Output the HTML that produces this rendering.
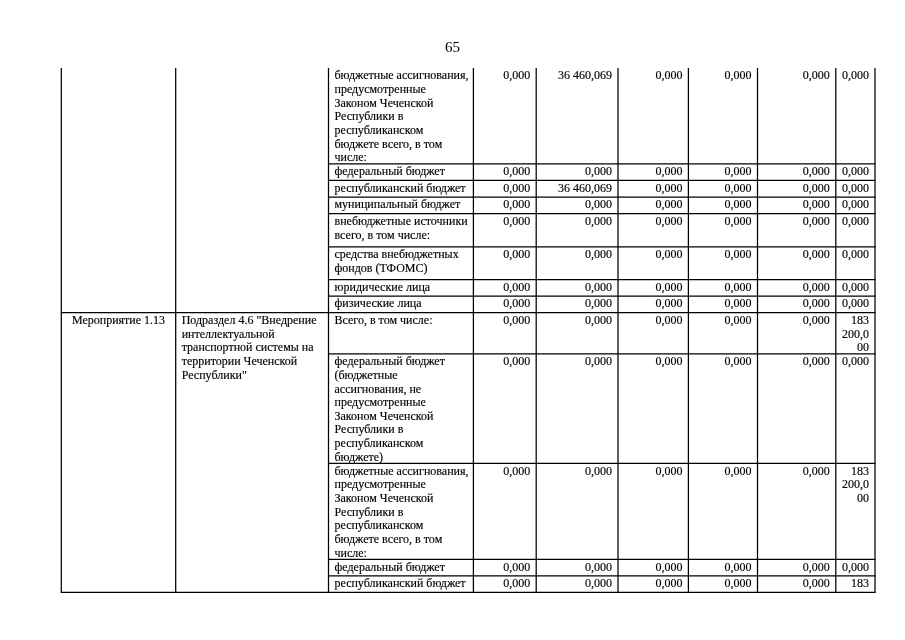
<!DOCTYPE html>
<html><head><meta charset="utf-8">
<style>
html,body{margin:0;padding:0;background:#fff;}
body{width:905px;height:640px;position:relative;overflow:hidden;font-family:"Liberation Serif",serif;color:#000;}
.l{position:absolute;background:#1a1a1a;}
.t{position:absolute;font-size:12.0px;line-height:13.65px;white-space:nowrap;-webkit-text-stroke:0.15px #000;}
.r{text-align:right;}
.c{text-align:center;}
.pn{position:absolute;font-size:15px;line-height:17px;left:0;width:905px;text-align:center;}
body{filter:grayscale(1);}
</style></head><body>

<div class="pn" style="top:39px;">65</div>
<svg width="905" height="640" style="position:absolute;left:0;top:0"><g stroke="#000" stroke-width="1.25" shape-rendering="geometricPrecision"><line x1="61.30" y1="68.00" x2="61.30" y2="592.80"/><line x1="175.70" y1="68.00" x2="175.70" y2="592.80"/><line x1="328.50" y1="68.00" x2="328.50" y2="592.80"/><line x1="473.40" y1="68.00" x2="473.40" y2="592.80"/><line x1="536.20" y1="68.00" x2="536.20" y2="592.80"/><line x1="618.00" y1="68.00" x2="618.00" y2="592.80"/><line x1="688.40" y1="68.00" x2="688.40" y2="592.80"/><line x1="757.50" y1="68.00" x2="757.50" y2="592.80"/><line x1="835.80" y1="68.00" x2="835.80" y2="592.80"/><line x1="875.00" y1="68.00" x2="875.00" y2="592.80"/><line x1="328.00" y1="163.90" x2="875.50" y2="163.90"/><line x1="328.00" y1="180.40" x2="875.50" y2="180.40"/><line x1="328.00" y1="197.00" x2="875.50" y2="197.00"/><line x1="328.00" y1="213.50" x2="875.50" y2="213.50"/><line x1="328.00" y1="246.80" x2="875.50" y2="246.80"/><line x1="328.00" y1="279.70" x2="875.50" y2="279.70"/><line x1="328.00" y1="296.00" x2="875.50" y2="296.00"/><line x1="60.80" y1="312.50" x2="875.50" y2="312.50"/><line x1="328.00" y1="353.80" x2="875.50" y2="353.80"/><line x1="328.00" y1="463.30" x2="875.50" y2="463.30"/><line x1="328.00" y1="559.30" x2="875.50" y2="559.30"/><line x1="328.00" y1="575.80" x2="875.50" y2="575.80"/><line x1="60.80" y1="592.30" x2="875.50" y2="592.30"/></g></svg>
<div class="t" style="left:334.5px;top:69.4px">бюджетные ассигнования,<br>предусмотренные<br>Законом Чеченской<br>Республики в<br>республиканском<br>бюджете всего, в том<br>числе:</div>
<div class="t r" style="right:374.8px;top:69.4px">0,000</div>
<div class="t r" style="right:293.0px;top:69.4px">36 460,069</div>
<div class="t r" style="right:222.6px;top:69.4px">0,000</div>
<div class="t r" style="right:153.5px;top:69.4px">0,000</div>
<div class="t r" style="right:75.2px;top:69.4px">0,000</div>
<div class="t r" style="right:36.0px;top:69.4px">0,000</div>
<div class="t" style="left:334.5px;top:165.3px">федеральный бюджет</div>
<div class="t r" style="right:374.8px;top:165.3px">0,000</div>
<div class="t r" style="right:293.0px;top:165.3px">0,000</div>
<div class="t r" style="right:222.6px;top:165.3px">0,000</div>
<div class="t r" style="right:153.5px;top:165.3px">0,000</div>
<div class="t r" style="right:75.2px;top:165.3px">0,000</div>
<div class="t r" style="right:36.0px;top:165.3px">0,000</div>
<div class="t" style="left:334.5px;top:181.8px">республиканский бюджет</div>
<div class="t r" style="right:374.8px;top:181.8px">0,000</div>
<div class="t r" style="right:293.0px;top:181.8px">36 460,069</div>
<div class="t r" style="right:222.6px;top:181.8px">0,000</div>
<div class="t r" style="right:153.5px;top:181.8px">0,000</div>
<div class="t r" style="right:75.2px;top:181.8px">0,000</div>
<div class="t r" style="right:36.0px;top:181.8px">0,000</div>
<div class="t" style="left:334.5px;top:198.4px">муниципальный бюджет</div>
<div class="t r" style="right:374.8px;top:198.4px">0,000</div>
<div class="t r" style="right:293.0px;top:198.4px">0,000</div>
<div class="t r" style="right:222.6px;top:198.4px">0,000</div>
<div class="t r" style="right:153.5px;top:198.4px">0,000</div>
<div class="t r" style="right:75.2px;top:198.4px">0,000</div>
<div class="t r" style="right:36.0px;top:198.4px">0,000</div>
<div class="t" style="left:334.5px;top:214.9px">внебюджетные источники<br>всего, в том числе:</div>
<div class="t r" style="right:374.8px;top:214.9px">0,000</div>
<div class="t r" style="right:293.0px;top:214.9px">0,000</div>
<div class="t r" style="right:222.6px;top:214.9px">0,000</div>
<div class="t r" style="right:153.5px;top:214.9px">0,000</div>
<div class="t r" style="right:75.2px;top:214.9px">0,000</div>
<div class="t r" style="right:36.0px;top:214.9px">0,000</div>
<div class="t" style="left:334.5px;top:248.2px">средства внебюджетных<br>фондов (ТФОМС)</div>
<div class="t r" style="right:374.8px;top:248.2px">0,000</div>
<div class="t r" style="right:293.0px;top:248.2px">0,000</div>
<div class="t r" style="right:222.6px;top:248.2px">0,000</div>
<div class="t r" style="right:153.5px;top:248.2px">0,000</div>
<div class="t r" style="right:75.2px;top:248.2px">0,000</div>
<div class="t r" style="right:36.0px;top:248.2px">0,000</div>
<div class="t" style="left:334.5px;top:281.1px">юридические лица</div>
<div class="t r" style="right:374.8px;top:281.1px">0,000</div>
<div class="t r" style="right:293.0px;top:281.1px">0,000</div>
<div class="t r" style="right:222.6px;top:281.1px">0,000</div>
<div class="t r" style="right:153.5px;top:281.1px">0,000</div>
<div class="t r" style="right:75.2px;top:281.1px">0,000</div>
<div class="t r" style="right:36.0px;top:281.1px">0,000</div>
<div class="t" style="left:334.5px;top:297.4px">физические лица</div>
<div class="t r" style="right:374.8px;top:297.4px">0,000</div>
<div class="t r" style="right:293.0px;top:297.4px">0,000</div>
<div class="t r" style="right:222.6px;top:297.4px">0,000</div>
<div class="t r" style="right:153.5px;top:297.4px">0,000</div>
<div class="t r" style="right:75.2px;top:297.4px">0,000</div>
<div class="t r" style="right:36.0px;top:297.4px">0,000</div>
<div class="t" style="left:334.5px;top:313.9px">Всего, в том числе:</div>
<div class="t r" style="right:374.8px;top:313.9px">0,000</div>
<div class="t r" style="right:293.0px;top:313.9px">0,000</div>
<div class="t r" style="right:222.6px;top:313.9px">0,000</div>
<div class="t r" style="right:153.5px;top:313.9px">0,000</div>
<div class="t r" style="right:75.2px;top:313.9px">0,000</div>
<div class="t r" style="right:36.0px;top:313.9px">183<br>200,0<br>00</div>
<div class="t" style="left:334.5px;top:355.2px">федеральный бюджет<br>(бюджетные<br>ассигнования, не<br>предусмотренные<br>Законом Чеченской<br>Республики в<br>республиканском<br>бюджете)</div>
<div class="t r" style="right:374.8px;top:355.2px">0,000</div>
<div class="t r" style="right:293.0px;top:355.2px">0,000</div>
<div class="t r" style="right:222.6px;top:355.2px">0,000</div>
<div class="t r" style="right:153.5px;top:355.2px">0,000</div>
<div class="t r" style="right:75.2px;top:355.2px">0,000</div>
<div class="t r" style="right:36.0px;top:355.2px">0,000</div>
<div class="t" style="left:334.5px;top:464.7px">бюджетные ассигнования,<br>предусмотренные<br>Законом Чеченской<br>Республики в<br>республиканском<br>бюджете всего, в том<br>числе:</div>
<div class="t r" style="right:374.8px;top:464.7px">0,000</div>
<div class="t r" style="right:293.0px;top:464.7px">0,000</div>
<div class="t r" style="right:222.6px;top:464.7px">0,000</div>
<div class="t r" style="right:153.5px;top:464.7px">0,000</div>
<div class="t r" style="right:75.2px;top:464.7px">0,000</div>
<div class="t r" style="right:36.0px;top:464.7px">183<br>200,0<br>00</div>
<div class="t" style="left:334.5px;top:560.7px">федеральный бюджет</div>
<div class="t r" style="right:374.8px;top:560.7px">0,000</div>
<div class="t r" style="right:293.0px;top:560.7px">0,000</div>
<div class="t r" style="right:222.6px;top:560.7px">0,000</div>
<div class="t r" style="right:153.5px;top:560.7px">0,000</div>
<div class="t r" style="right:75.2px;top:560.7px">0,000</div>
<div class="t r" style="right:36.0px;top:560.7px">0,000</div>
<div class="t" style="left:334.5px;top:577.2px">республиканский бюджет</div>
<div class="t r" style="right:374.8px;top:577.2px">0,000</div>
<div class="t r" style="right:293.0px;top:577.2px">0,000</div>
<div class="t r" style="right:222.6px;top:577.2px">0,000</div>
<div class="t r" style="right:153.5px;top:577.2px">0,000</div>
<div class="t r" style="right:75.2px;top:577.2px">0,000</div>
<div class="t r" style="right:36.0px;top:577.2px">183</div>
<div class="t c" style="left:61.3px;width:114.4px;top:313.9px">Мероприятие 1.13</div>
<div class="t" style="left:181.7px;top:313.9px">Подраздел 4.6 "Внедрение<br>интеллектуальной<br>транспортной системы на<br>территории Чеченской<br>Республики"</div>
</body></html>
